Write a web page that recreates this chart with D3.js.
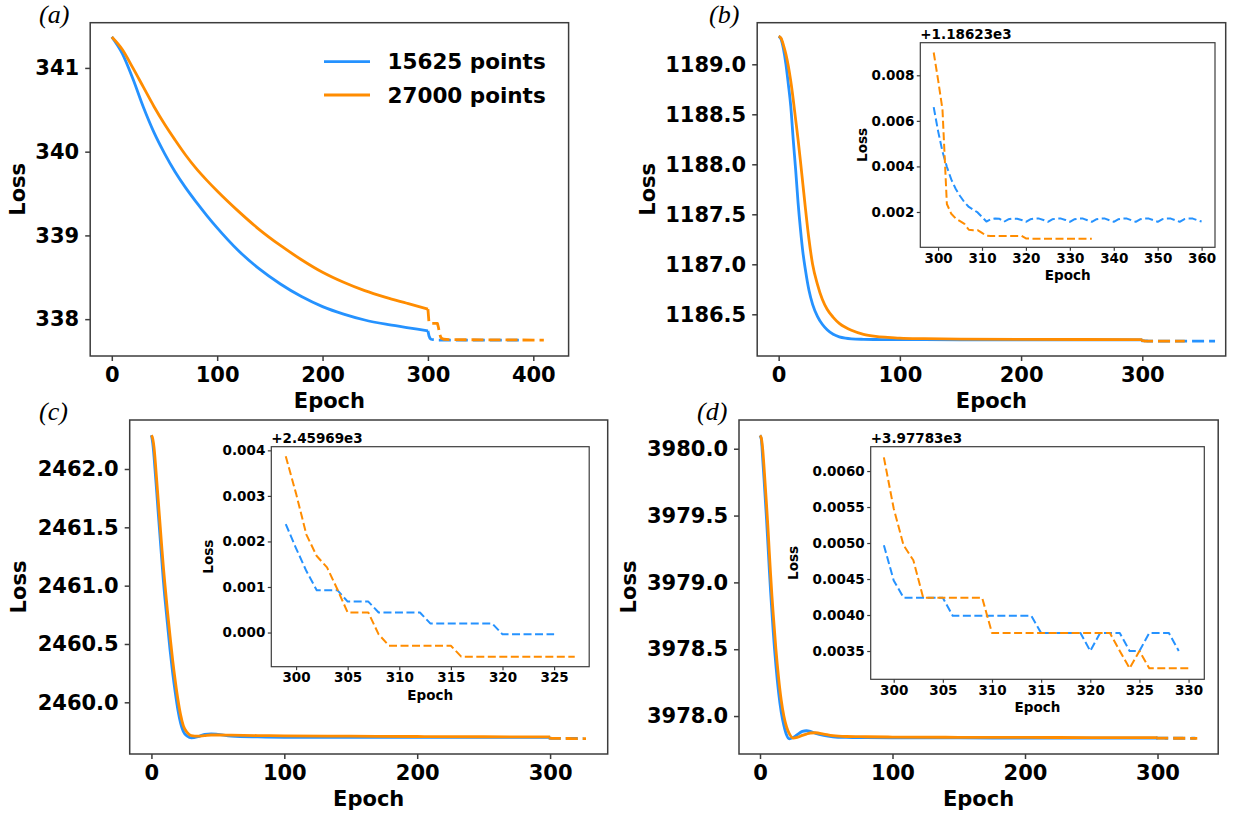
<!DOCTYPE html>
<html>
<head>
<meta charset="utf-8">
<script src="https://cdn.jsdelivr.net/npm/d3@7"></script>
<style>
  body { margin: 0; background: #fff; }
</style>
</head>
<body>
<svg id="fig" width="1242" height="815"></svg>
<script>
const blueColor = "#2592ff";
const orangeColor = "#ff8c00";
const frameColor = "#3c3c3c";
const seriesNames = ["15625 points", "27000 points"];
const panelNames = ["(a)", "(b)", "(c)", "(d)"];

// ---- (a) main curves, then the dashed tail after epoch 300
const aEpochs = [0, 10, 20, 30, 40, 50, 60, 70, 80, 90, 100, 120, 140, 160, 180, 200, 220, 240, 260, 280, 300];
const aBlue = [341.37, 341.17, 340.87, 340.53, 340.23, 339.98, 339.76, 339.57, 339.40, 339.24, 339.09, 338.82, 338.60, 338.42, 338.27, 338.15, 338.06, 337.99, 337.94, 337.90, 337.86];
const aOrange = [341.37, 341.22, 341.00, 340.77, 340.54, 340.33, 340.14, 339.96, 339.80, 339.66, 339.53, 339.29, 339.07, 338.88, 338.71, 338.56, 338.44, 338.34, 338.26, 338.19, 338.12];
const aBlueTailEpochs = [300, 301, 302, 303, 305, 310, 388];
const aBlueTail = [337.86, 337.80, 337.77, 337.76, 337.755, 337.75, 337.75];
const aOrangeTailEpochs = [300, 301, 302, 309, 310, 311, 312, 313, 315, 320, 410];
const aOrangeTail = [338.12, 337.96, 337.95, 337.95, 337.90, 337.83, 337.79, 337.77, 337.76, 337.755, 337.75];
const aXTicks = [0, 100, 200, 300, 400];
const aYTicks = [338, 339, 340, 341];

// ---- (b)
const bEpochs = [0, 2, 4, 6, 8, 10, 12, 14, 16, 18, 20, 22, 25, 28, 32, 36, 40, 45, 50, 55, 60, 70, 80, 90, 100, 120, 150, 200, 250, 300];
const bBlue = [1189.28, 1189.25, 1189.15, 1189.00, 1188.80, 1188.58, 1188.25, 1187.95, 1187.62, 1187.35, 1187.12, 1186.95, 1186.74, 1186.60, 1186.48, 1186.40, 1186.345, 1186.30, 1186.275, 1186.262, 1186.255, 1186.25, 1186.248, 1186.247, 1186.246, 1186.246, 1186.245, 1186.245, 1186.245, 1186.245];
const bOrange = [1189.28, 1189.26, 1189.19, 1189.10, 1188.98, 1188.83, 1188.65, 1188.45, 1188.25, 1188.03, 1187.80, 1187.57, 1187.25, 1187.00, 1186.80, 1186.65, 1186.55, 1186.47, 1186.41, 1186.37, 1186.34, 1186.30, 1186.28, 1186.27, 1186.262, 1186.256, 1186.252, 1186.25, 1186.248, 1186.247];
const bOffset = 1186.23;
const bInsetBlueEpochs = d3.range(299, 361);
const bInsetBlue = [0.00660, 0.00555, 0.00465, 0.00398, 0.00343, 0.00302, 0.00270, 0.00243, 0.00222, 0.00210, 0.00198, 0.00178,
  0.00158, 0.00168, 0.00171, 0.00170, 0.00157, 0.00168, 0.00171, 0.00170, 0.00165, 0.00157, 0.00168, 0.00171, 0.00171, 0.00165,
  0.00157, 0.00168, 0.00171, 0.00171, 0.00165, 0.00157, 0.00168, 0.00171, 0.00171, 0.00164, 0.00157, 0.00168, 0.00171, 0.00171,
  0.00164, 0.00157, 0.00168, 0.00171, 0.00171, 0.00164, 0.00157, 0.00168, 0.00171, 0.00171, 0.00164, 0.00157, 0.00168, 0.00171,
  0.00171, 0.00164, 0.00157, 0.00168, 0.00171, 0.00171, 0.00164, 0.00158];
const bInsetOrangeEpochs = d3.range(299, 336);
const bInsetOrange = [0.00900, 0.00780, 0.00650, 0.00235, 0.00192, 0.00172, 0.00160, 0.00148, 0.00122, 0.00120, 0.00120, 0.00108,
  0.00096, 0.00095, 0.00095, 0.00095, 0.00095, 0.00095, 0.00095, 0.00095, 0.00095, 0.00084, 0.00083, 0.00083, 0.00083, 0.00083,
  0.00083, 0.00083, 0.00083, 0.00083, 0.00083, 0.00083, 0.00083, 0.00083, 0.00083, 0.00083, 0.00083];
const bXTicks = [0, 100, 200, 300];
const bYTicks = [1186.5, 1187.0, 1187.5, 1188.0, 1188.5, 1189.0];
const bInsetXTicks = [300, 310, 320, 330, 340, 350, 360];
const bInsetYTicks = [0.002, 0.004, 0.006, 0.008];

// ---- (c)
const cEpochs = [0, 1, 2, 3, 4, 5, 6, 7, 8, 9, 10, 12, 14, 16, 18, 20, 22, 24, 27, 30, 35, 40, 45, 50, 60, 80, 100, 150, 200, 250, 300];
const cBlue = [2462.29, 2462.22, 2462.10, 2461.95, 2461.80, 2461.64, 2461.49, 2461.34, 2461.19, 2461.04, 2460.91, 2460.68, 2460.45, 2460.25, 2460.08, 2459.93, 2459.82, 2459.75, 2459.71, 2459.695, 2459.705, 2459.725, 2459.73, 2459.725, 2459.71, 2459.703, 2459.70, 2459.70, 2459.70, 2459.70, 2459.70];
const cOrange = [2462.29, 2462.26, 2462.18, 2462.05, 2461.90, 2461.75, 2461.60, 2461.45, 2461.30, 2461.16, 2461.03, 2460.79, 2460.57, 2460.36, 2460.18, 2460.02, 2459.89, 2459.80, 2459.74, 2459.715, 2459.71, 2459.715, 2459.72, 2459.72, 2459.718, 2459.715, 2459.713, 2459.71, 2459.707, 2459.705, 2459.703];
const cOffset = 2459.69;
const cInsetBlueEpochs = d3.range(299, 326);
const cInsetBlue = [0.00238, 0.00185, 0.00135, 0.00093, 0.00093, 0.00093, 0.00068, 0.00068, 0.00068, 0.00044, 0.00044, 0.00044,
  0.00044, 0.00044, 0.00020, 0.00020, 0.00020, 0.00020, 0.00020, 0.00020, 0.00020, -0.00004, -0.00004, -0.00004, -0.00004,
  -0.00004, -0.00004];
const cInsetOrangeEpochs = d3.range(299, 328);
const cInsetOrange = [0.00387, 0.00305, 0.00215, 0.00168, 0.00143, 0.00095, 0.00044, 0.00044, 0.00044, -0.00004, -0.00029,
  -0.00029, -0.00029, -0.00029, -0.00029, -0.00029, -0.00029, -0.00053, -0.00053, -0.00053, -0.00053, -0.00053, -0.00053,
  -0.00053, -0.00053, -0.00053, -0.00053, -0.00053, -0.00053];
const cXTicks = [0, 100, 200, 300];
const cYTicks = [2460.0, 2460.5, 2461.0, 2461.5, 2462.0];
const cInsetXTicks = [300, 305, 310, 315, 320, 325];
const cInsetYTicks = [0.000, 0.001, 0.002, 0.003, 0.004];

// ---- (d)
const dEpochs = [0, 1, 2, 3, 4, 5, 6, 7, 8, 9, 10, 12, 14, 16, 18, 20, 22, 25, 28, 32, 35, 38, 42, 48, 55, 65, 80, 100, 150, 200, 250, 300];
const dBlue = [3980.10, 3980.07, 3979.93, 3979.78, 3979.62, 3979.46, 3979.28, 3979.10, 3978.93, 3978.78, 3978.63, 3978.38, 3978.18, 3978.03, 3977.93, 3977.86, 3977.83, 3977.84, 3977.86, 3977.885, 3977.89, 3977.885, 3977.87, 3977.855, 3977.845, 3977.84, 3977.838, 3977.837, 3977.836, 3977.835, 3977.835, 3977.835];
const dOrange = [3980.10, 3980.08, 3980.00, 3979.87, 3979.72, 3979.57, 3979.41, 3979.23, 3979.06, 3978.90, 3978.76, 3978.50, 3978.29, 3978.12, 3978.00, 3977.92, 3977.87, 3977.835, 3977.84, 3977.855, 3977.865, 3977.873, 3977.875, 3977.865, 3977.853, 3977.847, 3977.845, 3977.843, 3977.841, 3977.84, 3977.839, 3977.838];
const dOffset = 3977.83;
const dInsetBlueEpochs = d3.range(299, 330);
const dInsetBlue = [0.00497, 0.00448, 0.00424, 0.00424, 0.00424, 0.00424, 0.00424, 0.00399, 0.00399, 0.00399, 0.00399, 0.00399,
  0.00399, 0.00399, 0.00399, 0.00399, 0.00375, 0.00375, 0.00375, 0.00375, 0.00375, 0.00350, 0.00375, 0.00375, 0.00375, 0.00350,
  0.00350, 0.00375, 0.00375, 0.00375, 0.00350];
const dInsetOrangeEpochs = d3.range(299, 331);
const dInsetOrange = [0.00619, 0.00548, 0.00497, 0.00476, 0.00424, 0.00424, 0.00424, 0.00424, 0.00424, 0.00424, 0.00424, 0.00375,
  0.00375, 0.00375, 0.00375, 0.00375, 0.00375, 0.00375, 0.00375, 0.00375, 0.00375, 0.00375, 0.00375, 0.00375, 0.00350, 0.00326,
  0.00350, 0.00326, 0.00326, 0.00326, 0.00326, 0.00326];
const dXTicks = [0, 100, 200, 300];
const dYTicks = [3978.0, 3978.5, 3979.0, 3979.5, 3980.0];
const dInsetXTicks = [300, 305, 310, 315, 320, 325, 330];
const dInsetYTicks = [0.0035, 0.0040, 0.0045, 0.0050, 0.0055, 0.0060];

const svg = d3.select("#fig");
const sans = "'DejaVu Sans', sans-serif";

const mainStyle = {font: 21, tick: 5, pad: 6, lw: 1.5, labelFont: 21};
const insetStyle = {font: 13.5, tick: 3.5, pad: 2.5, lw: 1.2, labelFont: 13.5};

function zip(xs, ys, off = 0) {
    return xs.map((e, i) => ({e: e, v: ys[i] + off}));
}

function makeAxes(box, xDomain, yDomain, st, xTicks, yTicks, xFmt, yFmt) {
    const x = d3.scaleLinear().domain(xDomain).range([box.left, box.right]);
    const y = d3.scaleLinear().domain(yDomain).range([box.bottom, box.top]);
    const g = svg.append("g");
    g.append("rect")
        .attr("x", box.left).attr("y", box.top)
        .attr("width", box.right - box.left).attr("height", box.bottom - box.top)
        .attr("fill", "#fff");
    const lines = g.append("g");

    const gx = g.append("g").attr("transform", `translate(0,${box.bottom})`)
        .call(d3.axisBottom(x).tickValues(xTicks).tickFormat(xFmt).tickSize(st.tick).tickPadding(st.pad));
    const gy = g.append("g").attr("transform", `translate(${box.left},0)`)
        .call(d3.axisLeft(y).tickValues(yTicks).tickFormat(yFmt).tickSize(st.tick).tickPadding(st.pad));
    [gx, gy].forEach(a => {
        a.select(".domain").remove();
        a.selectAll("line").attr("stroke", frameColor).attr("stroke-width", st.lw);
        a.selectAll("text")
            .style("font-family", sans).style("font-weight", "bold")
            .style("font-size", st.font + "px").attr("fill", "#000");
    });
    g.append("rect")
        .attr("x", box.left).attr("y", box.top)
        .attr("width", box.right - box.left).attr("height", box.bottom - box.top)
        .attr("fill", "none").attr("stroke", frameColor).attr("stroke-width", st.lw);
    return {g, lines, x, y};
}

function addLabels(p, box, st, lossX, epochGap) {
    p.g.append("text")
        .attr("x", (box.left + box.right) / 2).attr("y", box.bottom + epochGap)
        .attr("text-anchor", "middle")
        .style("font-family", sans).style("font-weight", "bold").style("font-size", st.labelFont + "px")
        .text("Epoch");
    p.g.append("text")
        .attr("transform", `translate(${lossX},${(box.top + box.bottom) / 2}) rotate(-90)`)
        .attr("text-anchor", "middle").attr("dy", "0.36em")
        .style("font-family", sans).style("font-weight", "bold").style("font-size", st.labelFont + "px")
        .text("Loss");
}

function drawLine(p, pts, color, width, dash, curve) {
    const line = d3.line().x(d => p.x(d.e)).y(d => p.y(d.v)).curve(curve);
    p.lines.append("path")
        .datum(pts)
        .attr("d", line)
        .attr("fill", "none")
        .attr("stroke", color)
        .attr("stroke-width", width)
        .attr("stroke-dasharray", dash)
        .attr("stroke-linejoin", "round");
}

function panelLabel(txt, x, y) {
    svg.append("text").attr("x", x).attr("y", y)
        .style("font-family", "'Liberation Serif', 'DejaVu Serif', serif")
        .style("font-style", "italic").style("font-size", "26px")
        .text(txt);
}

function offsetLabel(off) {
    return "+" + off.toExponential(5).replace("e+", "e");
}

// Main panel with dashed tail + optional inset
function drawPanel(cfg) {
    const p = makeAxes(cfg.box, cfg.xDomain, cfg.yDomain, mainStyle, cfg.xTicks, cfg.yTicks, d3.format("d"), cfg.yFmt);
    drawLine(p, zip(cfg.epochs, cfg.blue), blueColor, 2.8, null, d3.curveMonotoneX);
    drawLine(p, zip(cfg.epochs, cfg.orange), orangeColor, 2.8, null, d3.curveMonotoneX);
    drawLine(p, cfg.blueTail, blueColor, 2.8, "12,5", d3.curveLinear);
    drawLine(p, cfg.orangeTail, orangeColor, 2.8, "12,5", d3.curveLinear);
    addLabels(p, cfg.box, mainStyle, cfg.lossX, 52);

    if (cfg.inset) {
        const ic = cfg.inset;
        const q = makeAxes(ic.box, ic.xDomain, ic.yDomain, insetStyle, ic.xTicks, ic.yTicks, d3.format("d"), ic.yFmt);
        drawLine(q, zip(ic.blueEpochs, ic.blue), blueColor, 2, "8,3.5", d3.curveLinear);
        drawLine(q, zip(ic.orangeEpochs, ic.orange), orangeColor, 2, "8,3.5", d3.curveLinear);
        addLabels(q, ic.box, insetStyle, ic.lossX, 33);
        q.g.append("text")
            .attr("x", ic.box.left).attr("y", ic.box.top - 3.5)
            .style("font-family", sans).style("font-weight", "bold").style("font-size", insetStyle.font + "px")
            .text(offsetLabel(ic.offset));
    }
    panelLabel(cfg.name, cfg.labelPos[0], cfg.labelPos[1]);
    return p;
}

// (a)
drawPanel({
    name: panelNames[0], labelPos: [39, 23],
    box: {left: 90.2, right: 568.6, top: 22.7, bottom: 356},
    xDomain: [-20.5, 433.5], yDomain: [337.56, 341.54],
    xTicks: aXTicks, yTicks: aYTicks, yFmt: d3.format("d"),
    epochs: aEpochs, blue: aBlue, orange: aOrange,
    blueTail: zip(aBlueTailEpochs, aBlueTail), orangeTail: zip(aOrangeTailEpochs, aOrangeTail),
    lossX: 17.8
});

// legend of (a)
[blueColor, orangeColor].forEach((c, i) => {
    const ly = 61.7 + i * 33.3;
    svg.append("line").attr("x1", 324).attr("x2", 370).attr("y1", ly).attr("y2", ly)
        .attr("stroke", c).attr("stroke-width", 2.8);
    svg.append("text").attr("x", 387.5).attr("y", ly).attr("dy", "0.36em")
        .style("font-family", sans).style("font-weight", "bold").style("font-size", "21.5px")
        .text(seriesNames[i]);
});

// (b)
drawPanel({
    name: panelNames[1], labelPos: [709, 23],
    box: {left: 757.2, right: 1225.7, top: 22.7, bottom: 356},
    xDomain: [-17.7, 368.8], yDomain: [1186.083, 1189.416],
    xTicks: bXTicks, yTicks: bYTicks, yFmt: d3.format(".1f"),
    epochs: bEpochs, blue: bBlue, orange: bOrange,
    blueTail: zip(bInsetBlueEpochs, bInsetBlue, bOffset), orangeTail: zip(bInsetOrangeEpochs, bInsetOrange, bOffset),
    lossX: 647.8,
    inset: {
        box: {left: 920.3, right: 1215, top: 42.7, bottom: 247.3},
        xDomain: [295.95, 363.05], yDomain: [0.00045, 0.00943],
        xTicks: bInsetXTicks, yTicks: bInsetYTicks, yFmt: d3.format(".3f"),
        blueEpochs: bInsetBlueEpochs, blue: bInsetBlue, orangeEpochs: bInsetOrangeEpochs, orange: bInsetOrange,
        offset: bOffset, lossX: 862.5
    }
});

// (c)
drawPanel({
    name: panelNames[2], labelPos: [39, 420],
    box: {left: 129.7, right: 607.7, top: 420, bottom: 754},
    xDomain: [-16.35, 343.35], yDomain: [2459.557, 2462.42],
    xTicks: cXTicks, yTicks: cYTicks, yFmt: d3.format(".1f"),
    epochs: cEpochs, blue: cBlue, orange: cOrange,
    blueTail: zip(cInsetBlueEpochs, cInsetBlue, cOffset), orangeTail: zip(cInsetOrangeEpochs, cInsetOrange, cOffset),
    lossX: 18.8,
    inset: {
        box: {left: 271.3, right: 589.2, top: 446.7, bottom: 666.7},
        xDomain: [297.6, 328.4], yDomain: [-0.00075, 0.00408],
        xTicks: cInsetXTicks, yTicks: cInsetYTicks, yFmt: d3.format(".3f"),
        blueEpochs: cInsetBlueEpochs, blue: cInsetBlue, orangeEpochs: cInsetOrangeEpochs, orange: cInsetOrange,
        offset: cOffset, lossX: 208.5
    }
});

// (d)
drawPanel({
    name: panelNames[3], labelPos: [697, 420],
    box: {left: 739, right: 1218.2, top: 420, bottom: 754},
    xDomain: [-15.85, 345.8], yDomain: [3977.716, 3980.215],
    xTicks: dXTicks, yTicks: dYTicks, yFmt: d3.format(".1f"),
    epochs: dEpochs, blue: dBlue, orange: dOrange,
    blueTail: zip(dInsetBlueEpochs, dInsetBlue, dOffset), orangeTail: zip(dInsetOrangeEpochs, dInsetOrange, dOffset),
    lossX: 628,
    inset: {
        box: {left: 870.7, right: 1204.3, top: 446.7, bottom: 679.3},
        xDomain: [297.66, 331.6], yDomain: [0.003107, 0.006338],
        xTicks: dInsetXTicks, yTicks: dInsetYTicks, yFmt: d3.format(".4f"),
        blueEpochs: dInsetBlueEpochs, blue: dInsetBlue, orangeEpochs: dInsetOrangeEpochs, orange: dInsetOrange,
        offset: dOffset, lossX: 793.5
    }
});
</script>
</body>
</html>
